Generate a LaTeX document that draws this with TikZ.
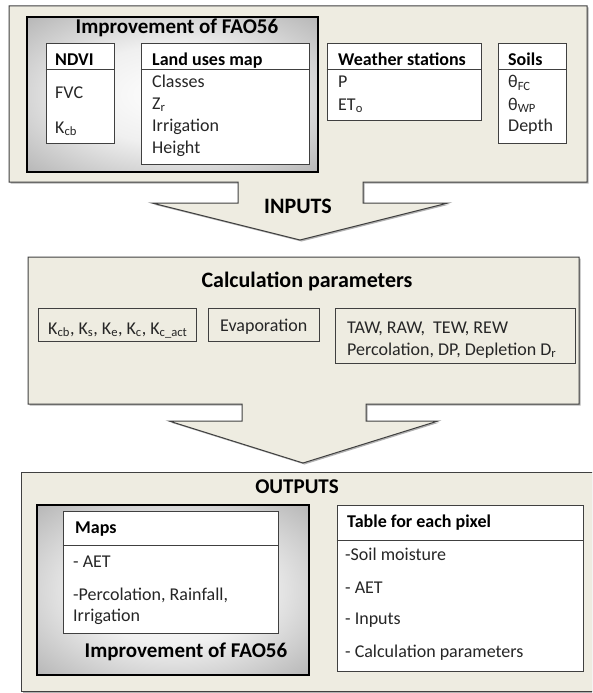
\documentclass[tikz,border=0pt]{standalone}
\usepackage{fontspec}
\setmainfont{Carlito}
\usepackage{xcolor}
\usepackage{tikz}

\definecolor{panelbg}{HTML}{EEECE1}
\definecolor{edgegray}{HTML}{404040}
\newcommand{\titlefnt}{\fontsize{21}{24}\selectfont\bfseries}
\newcommand{\bigtitlefnt}{\fontsize{22}{25}\selectfont\bfseries}
\newcommand{\headfnt}{\fontsize{18}{21}\selectfont\bfseries}
\newcommand{\bodyfnt}{\fontsize{18}{21}\selectfont}
\pgfdeclareradialshading{faoshade}{\pgfpoint{0bp}{0bp}}{color(0bp)=(white); color(16bp)=(white!94!black); color(50bp)=(black!45); color(72bp)=(black!65)}

\tikzset{
  panel/.style={draw=edgegray, fill=panelbg, line width=1pt, line join=miter},
  panelshadow/.style={fill=black!30, draw=none, shift={(1.5,1.5)}},
  faobox/.style={draw=black, line width=1.8pt, shading=faoshade, inner sep=0pt},
  itembox/.style={draw=edgegray, fill=white, line width=0.9pt, inner sep=0pt},
  parbox/.style={draw=edgegray, fill=panelbg, line width=0.9pt, inner sep=0pt},
  bigtitle/.style={font=\titlefnt, inner sep=0pt},
  head/.style={anchor=base west, font=\headfnt, inner sep=0pt},
  txt/.style={anchor=base west, font=\bodyfnt, text=black!85, inner sep=0pt}
}

\begin{document}
\begin{tikzpicture}[x=1pt, y=-1pt]
\useasboundingbox (0,0) rectangle (592,693);
\clip (0,0) rectangle (592,693);

% inputs panel
\fill[panelshadow] (9,6) -- (587,6) -- (587,182) -- (363,182) -- (363,203) -- (448,203) -- (300,240)
  -- (152,203) -- (238,203) -- (238,182) -- (9,182) -- cycle;
\draw[panel] (9,6) -- (587,6) -- (587,182) -- (363,182) -- (363,203) -- (448,203) -- (300,240)
  -- (152,203) -- (238,203) -- (238,182) -- (9,182) -- cycle;
\node[faobox, minimum width=291, minimum height=155] (faoin) at (172.5,94.5) {};
\node[bigtitle] (faointitle) at (177,28) {Improvement of FAO56};

\node[itembox, minimum width=68, minimum height=100] (ndvi) at (80,93) {};
\draw[edgegray, line width=0.9pt] (ndvi.west |- 0,69) -- (ndvi.east |- 0,69);
\node[head] (ndvihead) at (55,66) {NDVI};
\node[txt] (fvc) at (55,98) {FVC};
\node[txt] (kcb) at (55,133) {K\textsubscript{cb}};

\node[itembox, minimum width=168, minimum height=121] (landuse) at (225,103.5) {};
\draw[edgegray, line width=0.9pt] (landuse.west |- 0,69) -- (landuse.east |- 0,69);
\node[head] (landusehead) at (152,66) {Land uses map};
\node[txt] (classes) at (152,87) {Classes};
\node[txt] (zr) at (152,109) {Z\textsubscript{r}};
\node[txt] (irrig) at (152,131) {Irrigation};
\node[txt] (height) at (152,153) {Height};

\node[itembox, minimum width=154, minimum height=77] (weather) at (404,81.5) {};
\draw[edgegray, line width=0.9pt] (weather.west |- 0,69) -- (weather.east |- 0,69);
\node[head] (weatherhead) at (338,66) {Weather stations};
\node[txt] (rain) at (338,87) {P};
\node[txt] (eto) at (338,110) {ET\textsubscript{o}};

\node[itembox, minimum width=68, minimum height=100] (soils) at (532,93) {};
\draw[edgegray, line width=0.9pt] (soils.west |- 0,69) -- (soils.east |- 0,69);
\node[head] (soilshead) at (508,66) {Soils};
\node[txt] (thfc) at (508,88) {θ\textsubscript{FC}};
\node[txt] (thwp) at (508,110) {θ\textsubscript{WP}};
\node[txt] (depth) at (508,131) {Depth};

\node[bigtitle, font=\bigtitlefnt] (inputs) at (298,206) {INPUTS};

% calculation panel
\fill[panelshadow] (28,257) -- (579,257) -- (579,404) -- (366,404) -- (366,421) -- (438,421) -- (303,463)
  -- (169,421) -- (242,421) -- (242,404) -- (28,404) -- cycle;
\draw[panel] (28,257) -- (579,257) -- (579,404) -- (366,404) -- (366,421) -- (438,421) -- (303,463)
  -- (169,421) -- (242,421) -- (242,404) -- (28,404) -- cycle;
\node[bigtitle, font=\bigtitlefnt, anchor=base] (calctitle) at (307,287) {Calculation parameters};

\node[parbox, minimum width=158, minimum height=33] (coefs) at (117,324.5) {};
\node[txt] (coefstext) at (48,334) {K\textsubscript{cb}, K\textsubscript{s}, K\textsubscript{e}, K\textsubscript{c}, K\textsubscript{c\_act}};
\node[parbox, minimum width=111, minimum height=33] (evap) at (263.5,324.5) {};
\node[txt] (evaptext) at (220,331) {Evaporation};
\node[parbox, minimum width=240, minimum height=55] (balance) at (455,335.5) {};
\node[txt] (taw) at (347,333) {TAW, RAW, \ TEW, REW};
\node[txt] (perc) at (347,355) {Percolation, DP, Depletion D\textsubscript{r}};

% outputs panel
\fill[panelshadow] (21,472) rectangle (640,691);
\draw[panel] (21,472) rectangle (640,691);
\node[bigtitle, anchor=base] (outputs) at (297,493) {OUTPUTS};

\node[faobox, minimum width=272, minimum height=170] (faoout) at (173,590) {};
\node[itembox, minimum width=215, minimum height=122] (maps) at (170.5,572) {};
\draw[edgegray, line width=0.9pt] (maps.west |- 0,545) -- (maps.east |- 0,545);
\node[head] (mapshead) at (75,533) {Maps};
\node[txt] (mapaet) at (73,567) {- AET};
\node[txt] (mapperc) at (73,600) {-Percolation, Rainfall,};
\node[txt] (mapirrig) at (73,621) {Irrigation};
\node[bigtitle, anchor=base] (faoouttitle) at (186,657) {Improvement of FAO56};

\node[itembox, minimum width=246, minimum height=166] (pixtable) at (460,588) {};
\draw[edgegray, line width=0.9pt] (pixtable.west |- 0,540) -- (pixtable.east |- 0,540);
\node[head] (pixhead) at (347,527) {Table for each pixel};
\node[txt] (moist) at (345,560) {-Soil moisture};
\node[txt] (pixaet) at (345,593) {- AET};
\node[txt] (pixinputs) at (345,624) {- Inputs};
\node[txt] (pixcalc) at (345,657) {- Calculation parameters};
\end{tikzpicture}
\end{document}
